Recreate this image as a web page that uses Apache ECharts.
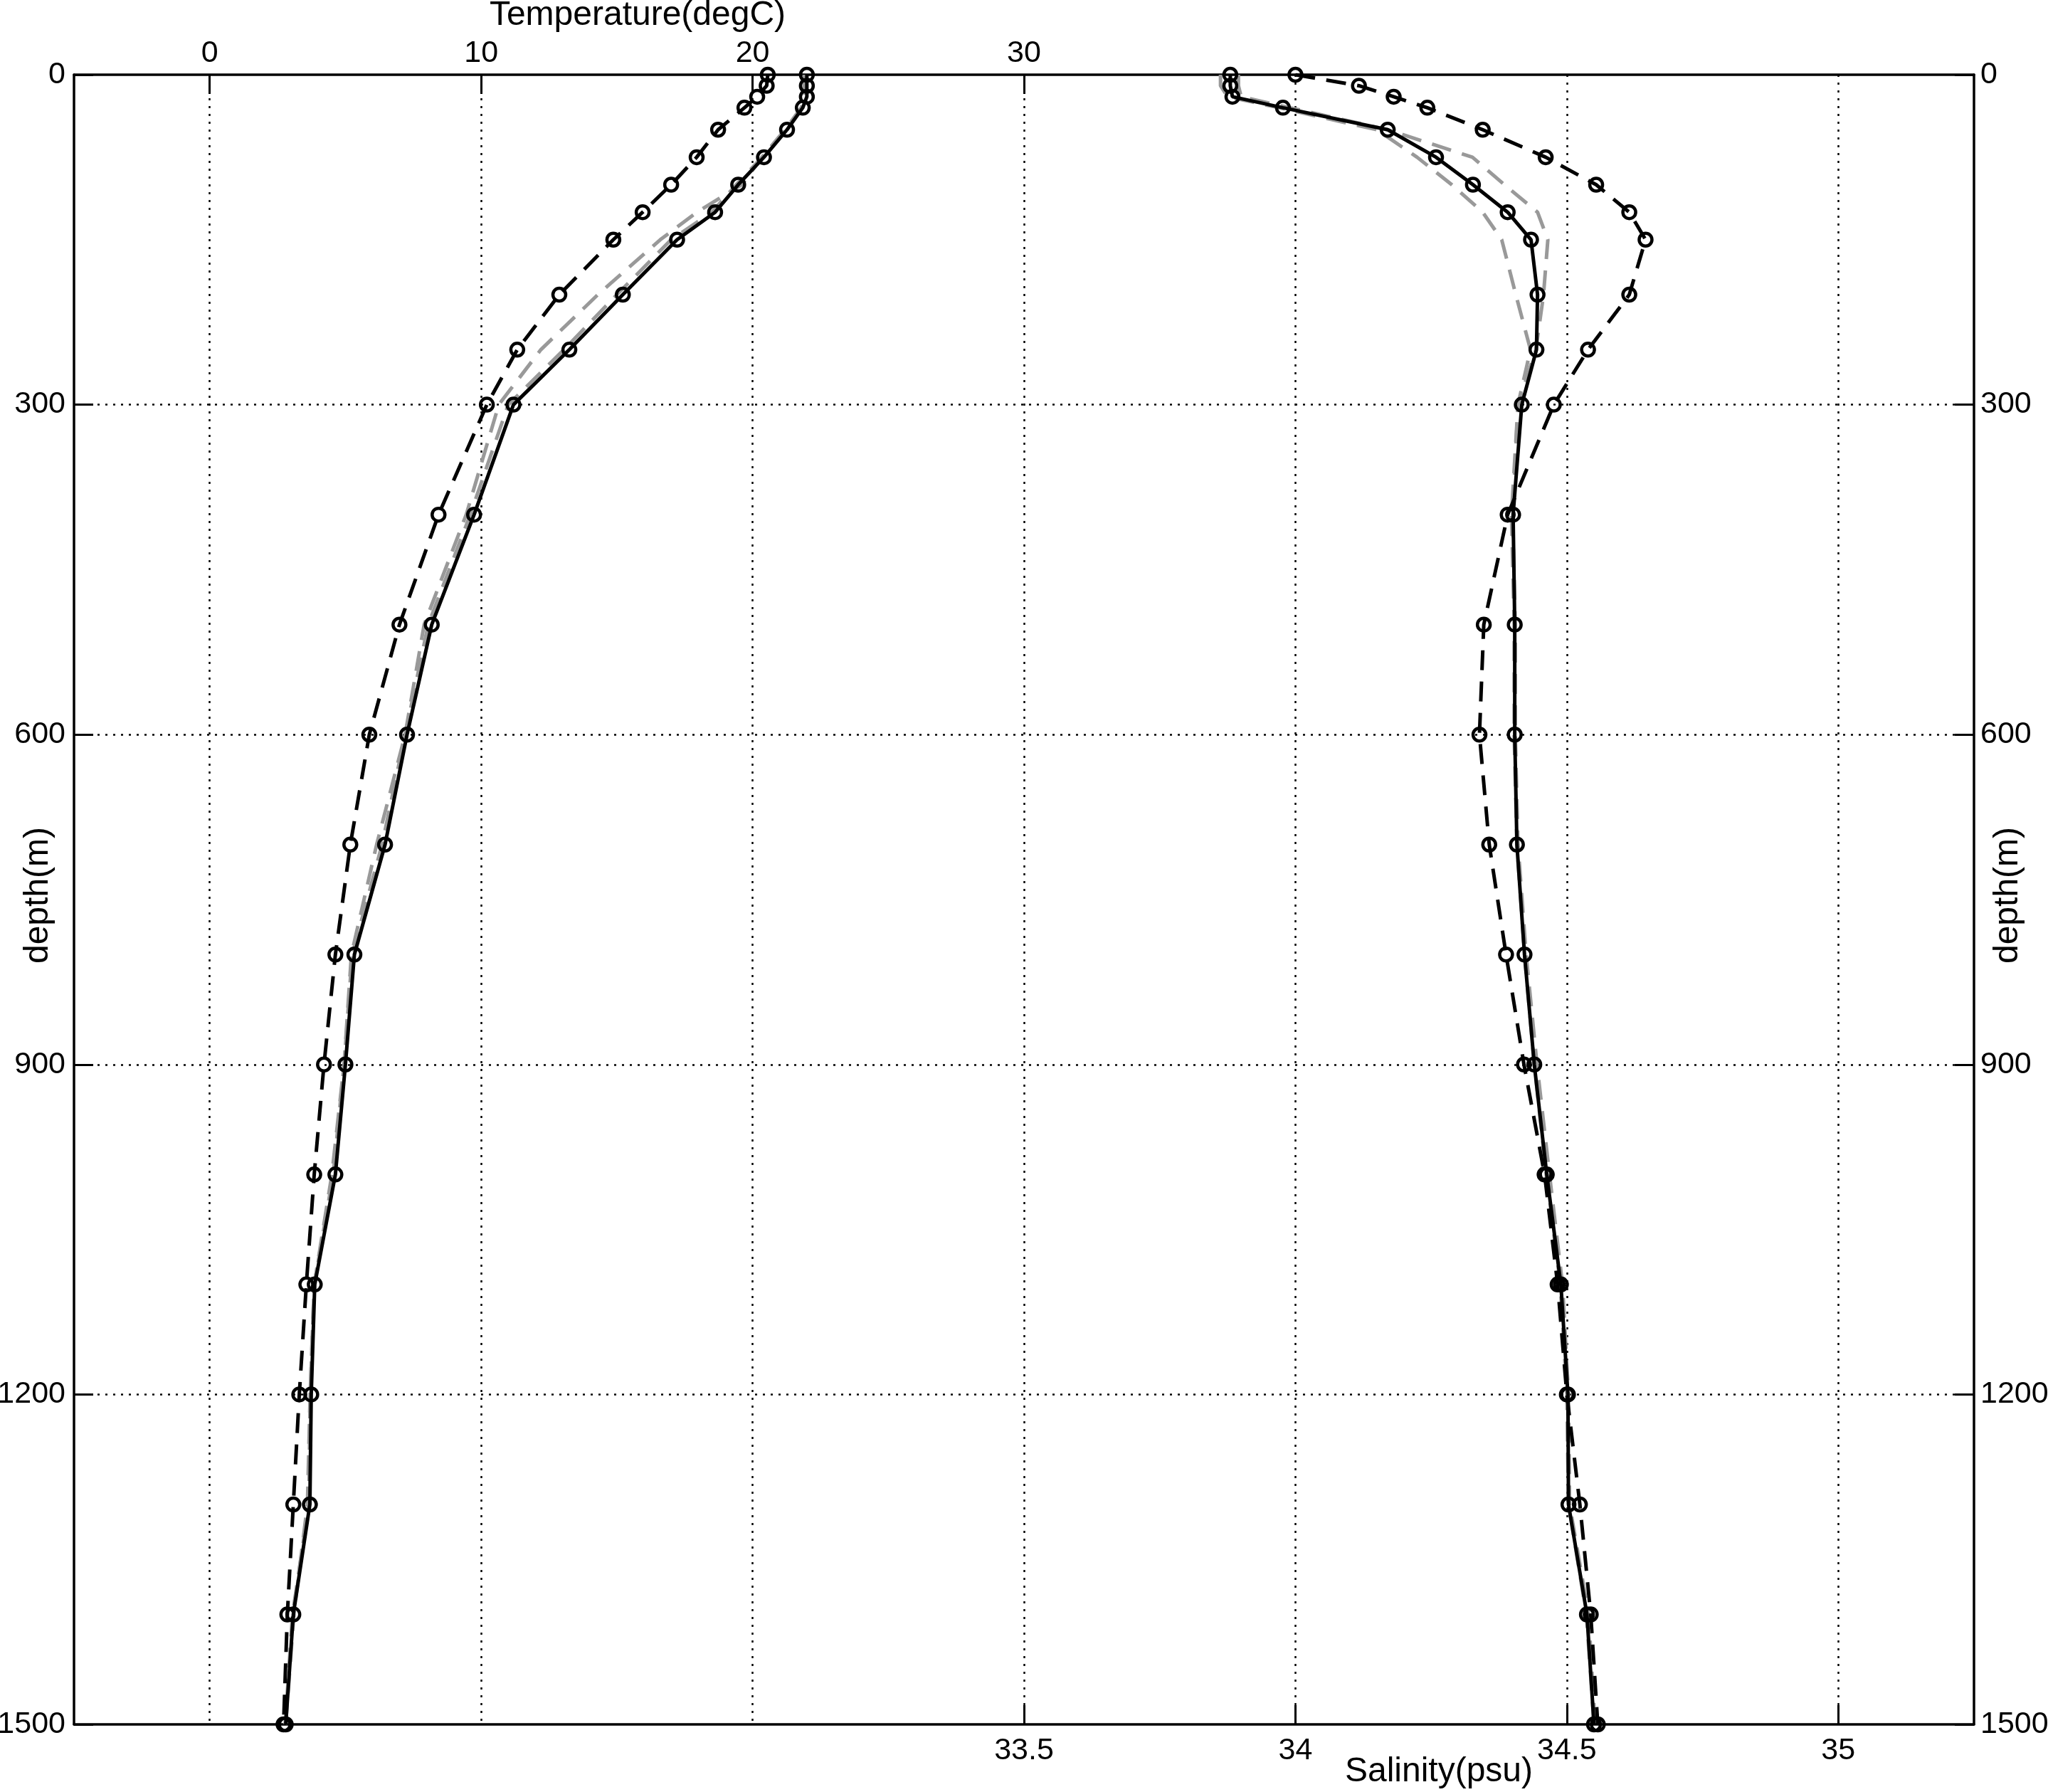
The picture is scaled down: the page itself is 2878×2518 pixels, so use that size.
<!DOCTYPE html>
<html><head><meta charset="utf-8">
<script src="https://cdn.jsdelivr.net/npm/echarts@6/dist/echarts.min.js"></script>
<style>html,body{margin:0;padding:0;background:#fff}#c{width:2878px;height:2518px}</style>
</head><body><div id="c"></div>
<script>
// depth levels (m)
const depths = [0,10,20,30,50,75,100,125,150,200,250,300,400,500,600,700,800,900,1000,1100,1200,1300,1400,1500];
// temperature profiles (degC)
const tempDashed = [20.56,20.52,20.17,19.70,18.73,17.94,17.00,15.95,14.87,12.88,11.33,10.21,8.43,6.99,5.88,5.18,4.63,4.21,3.85,3.56,3.30,3.08,2.86,2.72];
const tempSolid  = [22.00,22.00,22.00,21.85,21.27,20.42,19.47,18.62,17.22,15.22,13.25,11.19,9.74,8.18,7.27,6.46,5.33,5.00,4.63,3.87,3.74,3.69,3.08,2.80];
const tempGray1  = [21.90,21.90,21.90,21.80,21.20,20.35,19.60,17.95,16.60,14.30,12.20,10.65,9.45,7.90,7.20,6.15,5.22,4.95,4.50,3.85,3.70,3.60,3.10,2.80];
const tempGray2  = [21.95,21.95,21.95,21.80,21.20,20.35,19.40,18.50,17.00,15.00,13.05,11.00,9.60,8.05,7.20,6.35,5.25,4.95,4.55,3.85,3.70,3.65,3.05,2.78];
// salinity profiles (psu)
const salDashed = [34.000,34.117,34.181,34.243,34.345,34.461,34.554,34.615,34.645,34.615,34.539,34.476,34.391,34.347,34.339,34.357,34.388,34.421,34.459,34.483,34.500,34.524,34.544,34.557];
const salSolid  = [33.880,33.880,33.884,33.977,34.170,34.259,34.327,34.391,34.434,34.446,34.444,34.417,34.401,34.404,34.404,34.408,34.422,34.440,34.463,34.489,34.502,34.503,34.537,34.550];
const salGrayA  = [33.895,33.895,33.900,33.990,34.170,34.326,34.385,34.446,34.465,34.457,34.443,34.410,34.400,34.405,34.405,34.410,34.425,34.445,34.468,34.492,34.503,34.505,34.540,34.552];
const salGrayB  = [33.862,33.862,33.875,33.970,34.150,34.224,34.288,34.345,34.380,34.406,34.433,34.410,34.398,34.403,34.403,34.408,34.422,34.440,34.462,34.488,34.500,34.503,34.536,34.550];
// tick labels
const tempTicks = [0,10,20,30];
const salTicks = [33.5,34,34.5,35];
const depthTicks = [0,300,600,900,1200,1500];

const FONT = "'Liberation Sans', Arial, sans-serif";
const pts = arr => depths.map((d,i) => [arr[i], d]);

const grayLine = {color:'#999999', width:5, type:[28,16]};
const blackDash = {color:'#000', width:5, type:[28,16]};
const blackSolid = {color:'#000', width:5, type:'solid'};
const marker = {color:'rgba(0,0,0,0)', borderColor:'#000', borderWidth:4.5};

function ser(name, arr, xi, style, sym) {
  return {
    name, type:'line', xAxisIndex: xi, yAxisIndex: 0,
    data: pts(arr),
    lineStyle: style,
    symbol: sym ? 'circle' : 'none',
    symbolSize: 18,
    showSymbol: !!sym,
    itemStyle: sym ? marker : {color: style.color},
    z: sym ? 5 : 3,
    silent: true
  };
}

const chart = echarts.init(document.getElementById('c'), null, {renderer:'canvas'});
const axisLabelStyle = {color:'#000', fontFamily: FONT, fontSize: 43};
const gridDot = {color:'#000', width:2.5, type:[3,8]};

chart.setOption({
  animation: false,
  backgroundColor: '#fff',
  grid: {left:104, right:104, top:105, bottom:95, outerBoundsMode:'none', containLabel:false},
  xAxis: [
    { // temperature (top)
      type:'value', position:'top', min:-5, max:65, splitNumber:7,
      axisLine:{show:true, onZero:false, lineStyle:{color:'#000', width:3.5}},
      axisTick:{show:true, inside:true, length:27, lineStyle:{color:'#000', width:3}, customValues: tempTicks},
      axisLabel:{...axisLabelStyle, margin:8, customValues: tempTicks,
        formatter: v => tempTicks.includes(v) ? String(v) : ''},
      splitLine:{show:false}
    },
    { // salinity (bottom)
      type:'value', position:'bottom', min:31.75, max:35.25, splitNumber:7,
      axisLine:{show:true, onZero:false, lineStyle:{color:'#000', width:3.5}},
      axisTick:{show:true, inside:true, length:27, lineStyle:{color:'#000', width:3}, customValues: salTicks},
      axisLabel:{...axisLabelStyle, margin:16, customValues: salTicks,
        formatter: v => salTicks.includes(v) ? String(v) : ''},
      splitLine:{show:false}
    },
    { // vertical grid lines
      type:'value', position:'bottom', min:-5, max:65, splitNumber:7, show:true,
      axisLine:{show:false}, axisTick:{show:false}, axisLabel:{show:false},
      splitLine:{show:true, showMinLine:false, showMaxLine:false, lineStyle: gridDot}
    }
  ],
  yAxis: [
    {
      type:'value', inverse:true, min:0, max:1500, interval:300, position:'left',
      axisLine:{show:true, onZero:false, lineStyle:{color:'#000', width:3.5}},
      axisTick:{show:true, inside:true, length:27, lineStyle:{color:'#000', width:3}},
      axisLabel:{...axisLabelStyle, margin:12, customValues: depthTicks, formatter: v => String(v)},
      splitLine:{show:true, showMinLine:false, showMaxLine:false, lineStyle: gridDot}
    },
    {
      type:'value', inverse:true, min:0, max:1500, interval:300, position:'right',
      axisLine:{show:true, onZero:false, lineStyle:{color:'#000', width:3.5}},
      axisTick:{show:true, inside:true, length:27, lineStyle:{color:'#000', width:3}},
      axisLabel:{...axisLabelStyle, margin:9, customValues: depthTicks, formatter: v => String(v)},
      splitLine:{show:false}
    }
  ],
  graphic: [
    {type:'text', x:896, y:22, style:{text:'Temperature(degC)', fill:'#000', font:`48px ${FONT}`, textAlign:'center', textVerticalAlign:'middle'}},
    {type:'text', x:2022, y:2490, style:{text:'Salinity(psu)', fill:'#000', font:`48px ${FONT}`, textAlign:'center', textVerticalAlign:'middle'}},
    {type:'text', x:54, y:1258, rotation:Math.PI/2, style:{text:'depth(m)', fill:'#000', font:`48px ${FONT}`, textAlign:'center', textVerticalAlign:'middle'}},
    {type:'text', x:2822, y:1258, rotation:Math.PI/2, style:{text:'depth(m)', fill:'#000', font:`48px ${FONT}`, textAlign:'center', textVerticalAlign:'middle'}}
  ],
  series: [
    ser('T gray 1', tempGray1, 0, grayLine, false),
    ser('T gray 2', tempGray2, 0, grayLine, false),
    ser('S gray A', salGrayA, 1, grayLine, false),
    ser('S gray B', salGrayB, 1, grayLine, false),
    ser('T dashed', tempDashed, 0, blackDash, true),
    ser('T solid', tempSolid, 0, blackSolid, true),
    ser('S dashed', salDashed, 1, blackDash, true),
    ser('S solid', salSolid, 1, blackSolid, true)
  ]
});
</script>
</body></html>
